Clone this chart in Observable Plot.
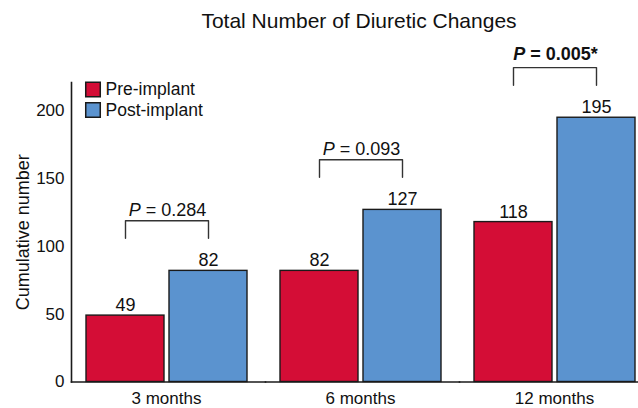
<!DOCTYPE html>
<html><head><meta charset="utf-8">
<script src="https://cdn.jsdelivr.net/npm/d3@7"></script>
<script src="https://cdn.jsdelivr.net/npm/@observablehq/plot@0.6"></script>
<style>
html,body{margin:0;padding:0;background:#fff;overflow:hidden;width:638px;height:408px}
#title{font-family:"Liberation Sans",Arial,sans-serif;font-size:21px;color:#111;height:30px;padding-top:10px;width:718px;text-align:center;line-height:1;white-space:nowrap}
#chart{width:638px;overflow:hidden}
</style></head><body>
<div id="title">Total Number of Diuretic Changes</div>
<div id="chart"></div>
<script>
const months = ["3 months", "6 months", "12 months"];
const series = ["Pre-implant", "Post-implant"];
const preValues = [49, 82, 118];
const postValues = [82, 127, 195];
const pValues = ["0.284", "0.093", "0.005"];
const significant = [false, false, true];
const colors = ["#d40d36", "#5b93cf"];
const yTicks = [0, 50, 100, 150, 200];
const yLabel = "Cumulative number";

const bars = months.flatMap((m, i) => [
  {month: m, series: series[0], value: preValues[i]},
  {month: m, series: series[1], value: postValues[i]}
]);
const brackets = months.flatMap((m, i) => {
  const top = Math.max(preValues[i], postValues[i]);
  return [
    {month: m, series: series[0], y: top + 24},
    {month: m, series: series[0], y: top + 37},
    {month: m, series: series[1], y: top + 37},
    {month: m, series: series[1], y: top + 24}
  ];
});
const pLabels = months.map((m, i) => ({
  month: m, series: series[0],
  y: Math.max(preValues[i], postValues[i]) + 37,
  text: "P = " + pValues[i] + (significant[i] ? "*" : ""),
  sig: significant[i]
}));

const ink = "#1a1a1a";
const chart = Plot.plot({
  width: 654, height: 368,
  marginLeft: 70, marginRight: 0, marginTop: 42, marginBottom: 26.5,
  style: {fontFamily: '"Liberation Sans", Arial, sans-serif', fontSize: "17px", color: "#111", background: "transparent", overflow: "visible", maxWidth: "none"},
  fx: {domain: months, padding: 0, label: null},
  x: {domain: series, paddingInner: 5 / 84, paddingOuter: 0.1885, align: 0.442, axis: null},
  y: {domain: [0, 221]},
  color: {domain: series, range: colors},
  marks: [
    Plot.barY(bars, {fx: "month", x: "series", y: "value", fill: "series", stroke: ink, strokeWidth: 1.4}),
    Plot.frame({anchor: "bottom", stroke: ink, strokeWidth: 1.6}),
    Plot.frame({anchor: "left", facetAnchor: "left", stroke: ink, strokeWidth: 1.6}),
    Plot.text(bars, {fx: "month", x: "series", y: "value", text: d => String(d.value), lineAnchor: "bottom", dy: -4.5, fontSize: 18, fill: "#111"}),
    Plot.line(brackets, {fx: "month", x: "series", y: "y", z: "month", stroke: "#333", strokeWidth: 1.4}),
    Plot.text(pLabels.filter(d => !d.sig), {fx: "month", x: "series", y: "y", text: "text", dx: 42, lineAnchor: "bottom", dy: -4.5, fontSize: 18, fill: "#111", className: "pval"}),
    Plot.text(pLabels.filter(d => d.sig), {fx: "month", x: "series", y: "y", text: "text", dx: 42, lineAnchor: "bottom", dy: -7.5, fontSize: 18, fontWeight: "bold", fill: "#111", className: "pval"}),
    Plot.axisY({ticks: yTicks, tickSize: 0, tickPadding: 7, label: null, fontSize: 17}),
    Plot.text([yLabel], {facet: "super", frameAnchor: "left", rotate: -90, dx: -48.5, text: d => d, fontSize: 18, fill: "#111", textAnchor: "middle", lineAnchor: "middle"}),
    Plot.axisFx({anchor: "bottom", tickSize: 0, tickPadding: 9.5, label: null, fontSize: 17, dx: -2}),
    ...series.map((s, i) => Plot.dot([s], {facet: "super", frameAnchor: "top-left", dx: 21.5, dy: 7 + i * 20.5, symbol: "square", r: 8.2, fill: d => d, stroke: ink, strokeWidth: 1.5})),
    ...series.map((s, i) => Plot.text([s], {facet: "super", frameAnchor: "top-left", dx: 34, dy: 7 + i * 20.5, text: d => d, textAnchor: "start", lineAnchor: "middle", fontSize: 17.5, fill: "#111"}))
  ]
});
document.getElementById("chart").append(chart);
d3.select(chart).selectAll(".pval text").each(function () {
  const t = this.textContent;
  if (t.startsWith("P")) {
    this.textContent = "";
    d3.select(this).append("tspan").attr("font-style", "italic").text("P");
    d3.select(this).append("tspan").text(t.slice(1));
  }
});
</script>
</body></html>
